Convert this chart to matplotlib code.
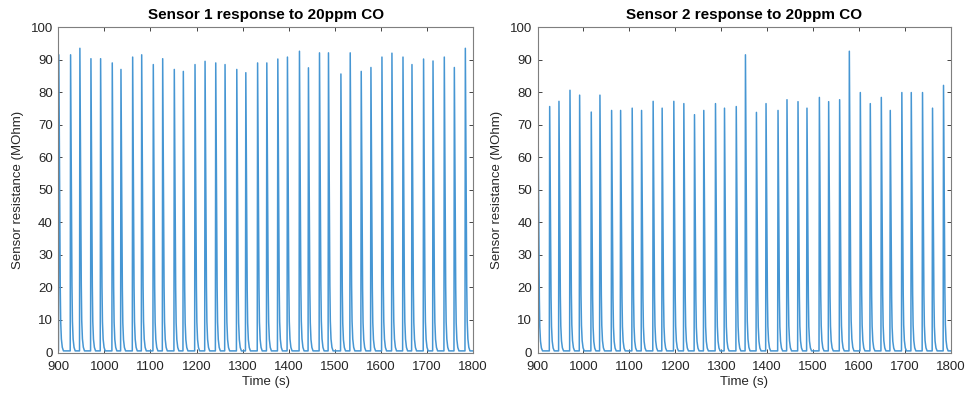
import numpy as np
import matplotlib
matplotlib.use("Agg")
import matplotlib.pyplot as plt

plt.rcParams['font.family'] = ['Liberation Sans', 'DejaVu Sans']

# peak times (s)
peak_times = [901, 926.5, 946.7, 970.7, 991.7, 1017.0, 1035.9, 1061.3, 1080.9, 1106.1,
              1126.5, 1151.7, 1171.3, 1196.7, 1218.5, 1241.7, 1261.9, 1287.4, 1307.0, 1332.6,
              1352.6, 1376.5, 1397.4, 1423.5, 1443.0, 1467.0, 1486.5, 1513.5, 1533.7, 1557.6,
              1578.7, 1602.6, 1624.3, 1648.3, 1667.8, 1693.0, 1713.5, 1738.0, 1759.8, 1783.7]

# peak resistance (MOhm)
sensor1_peaks = [91.5, 91.5, 93.5, 90.3, 90.3, 89.0, 87.0, 90.8, 91.5, 88.5,
                 90.3, 87.0, 86.4, 88.5, 89.5, 89.0, 88.5, 87.0, 86.0, 89.0,
                 89.0, 90.2, 90.8, 92.6, 87.5, 92.1, 92.1, 85.6, 92.1, 86.4,
                 87.6, 90.8, 92.0, 90.8, 88.5, 90.2, 89.6, 90.8, 87.6, 93.5]
sensor2_peaks = [74.4, 75.6, 77.2, 80.6, 79.1, 73.9, 79.1, 74.4, 74.4, 75.1,
                 74.4, 77.2, 75.1, 77.2, 76.5, 73.1, 74.4, 76.5, 75.1, 75.6,
                 91.5, 73.8, 76.5, 74.4, 77.7, 77.1, 75.1, 78.4, 77.1, 77.7,
                 92.6, 79.9, 76.5, 78.4, 74.4, 79.9, 79.9, 79.9, 75.1, 82.1]

baseline = 0.5
# shape of one pulse (offset from peak in s, fraction of peak height)
pulse_offsets = [-0.8, 0, 1.0, 2.0, 3.0, 4.0, 5.5, 7.5, 10]
pulse_fractions = [0, 1, 0.75, 0.45, 0.22, 0.1, 0.04, 0.012, 0]


def build_trace(times, peaks):
    t = [900]
    y = [baseline]
    for tp, vp in zip(times, peaks):
        for off, fr in zip(pulse_offsets, pulse_fractions):
            t.append(tp + off)
            y.append(baseline + (vp - baseline) * fr)
    t.append(1800)
    y.append(baseline)
    return np.array(t), np.array(y)


fig = plt.figure(figsize=(9.65, 3.99), dpi=100)
ax1 = fig.add_axes([0.0605, 0.1165, 0.4295, 0.8155])
ax2 = fig.add_axes([0.557, 0.1165, 0.4285, 0.8155])

for ax, peaks, title in [(ax1, sensor1_peaks, "Sensor 1 response to 20ppm CO"),
                         (ax2, sensor2_peaks, "Sensor 2 response to 20ppm CO")]:
    t, y = build_trace(peak_times, peaks)
    ax.plot(t, y, color="#4696d3", linewidth=1.1)
    ax.set_xlim(900, 1800)
    ax.set_ylim(0, 100)
    ax.set_xticks(range(900, 1801, 100))
    ax.set_yticks(range(0, 101, 10))
    ax.tick_params(direction="in", top=True, right=True, length=3,
                   labelsize=9.5, colors="#262626", width=0.6)
    ax.tick_params(axis="x", pad=6)
    ax.tick_params(axis="y", pad=4)
    for s in ax.spines.values():
        s.set_color("#7f7f7f")
        s.set_linewidth(0.8)
    ax.set_title(title, fontsize=11, fontweight="bold", pad=6)
    ax.set_xlabel("Time (s)", fontsize=9.5, color="#262626", labelpad=2)
    ax.set_ylabel("Sensor resistance (MOhm)", fontsize=9.5, color="#262626", labelpad=5)

fig.savefig("out.png", dpi=100)
